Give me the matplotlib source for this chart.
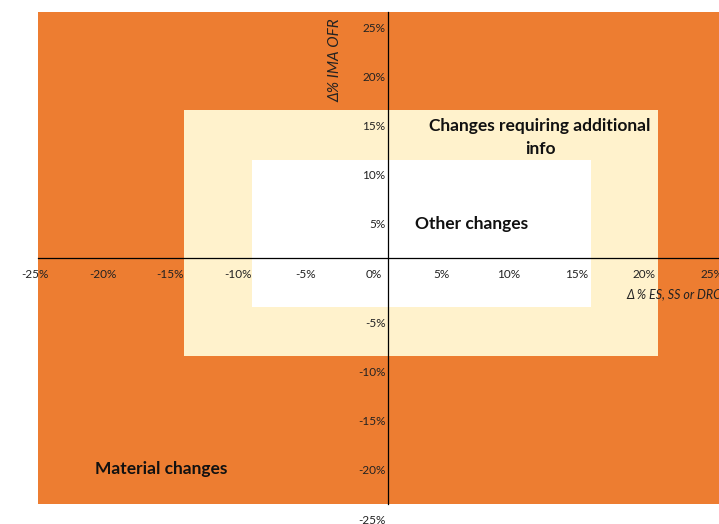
import matplotlib
matplotlib.use("Agg")
import matplotlib.pyplot as plt
from matplotlib.transforms import ScaledTranslation

# ---- data ----
x_ticks = [-25, -20, -15, -10, -5, 0, 5, 10, 15, 20, 25]
y_ticks = [25, 20, 15, 10, 5, -5, -10, -15, -20, -25]
x_limits = (-25.8, 25)
y_limits = (-25, 25)

zone_labels = ["Changes requiring additional\ninfo", "Other changes", "Material changes"]
zone_x0 = [-15, -10]
zone_x1 = [20, 15]
zone_y0 = [-10, -5]
zone_y1 = [15, 10]
zone_colors = ["#FFF2CC", "#FFFFFF"]
label_x = [11.25, 6.2, -16.7]
label_y = [12.25, 3.5, -21.4]

x_title = "\u0394 % ES, SS or DRC"
y_title = "\u0394% IMA OFR"

ORANGE = "#ED7D31"
FONT = ["Lato", "DejaVu Sans"]
plt.rcParams["font.family"] = FONT

W, H, DPI = 719, 524, 100
fig = plt.figure(figsize=(W / DPI, H / DPI), dpi=DPI, facecolor="white")
ax = fig.add_axes([38 / W, 20 / H, (726.2 - 38) / W, 492 / H])
ax.set_facecolor(ORANGE)
ax.set_xlim(*x_limits)
ax.set_ylim(*y_limits)

for x0, x1, y0, y1, c in zip(zone_x0, zone_x1, zone_y0, zone_y1, zone_colors):
    ax.bar(x0, y1 - y0, width=x1 - x0, bottom=y0, align="edge", color=c,
           edgecolor="none", linewidth=0, zorder=1)

# axes crossing at zero
for s in ["top", "right"]:
    ax.spines[s].set_visible(False)
ax.spines["bottom"].set_position(("data", 0))
ax.spines["left"].set_position(("data", 0))
for s in ["bottom", "left"]:
    ax.spines[s].set_color("black")
    ax.spines[s].set_linewidth(0.9)
    ax.spines[s].set_zorder(3)

ax.set_xticks(x_ticks)
ax.set_xticklabels([f"{v}%" for v in x_ticks])
ax.set_yticks(y_ticks)
ax.set_yticklabels([f"{v}%" for v in y_ticks])
ax.tick_params(axis="x", length=0, pad=8, labelsize=8.5, colors="#222222")
ax.tick_params(axis="y", length=0, pad=1.5, labelsize=8.5, colors="#222222")

dx = ScaledTranslation(-14 / DPI, 0, fig.dpi_scale_trans)
for lab in ax.get_xticklabels():
    lab.set_transform(lab.get_transform() + dx)
dy = ScaledTranslation(0, -15 / DPI, fig.dpi_scale_trans)
for lab in ax.get_yticklabels():
    lab.set_transform(lab.get_transform() + dy)

for t, x, y in zip(zone_labels, label_x, label_y):
    ax.text(x, y, t, ha="center", va="center", fontsize=12.5, fontweight="bold",
            color="#111111", linespacing=1.55, zorder=4)

ax.text(17.65, -3.7, x_title, ha="left", va="center", fontsize=9,
        fontstyle="italic", color="#222222", zorder=4, clip_on=False)
ax.text(-3.85, 20.1, y_title, ha="center", va="center", rotation=90, fontsize=11,
        fontstyle="italic", color="#222222", zorder=4)

fig.savefig("out.png", dpi=DPI, facecolor="white")
